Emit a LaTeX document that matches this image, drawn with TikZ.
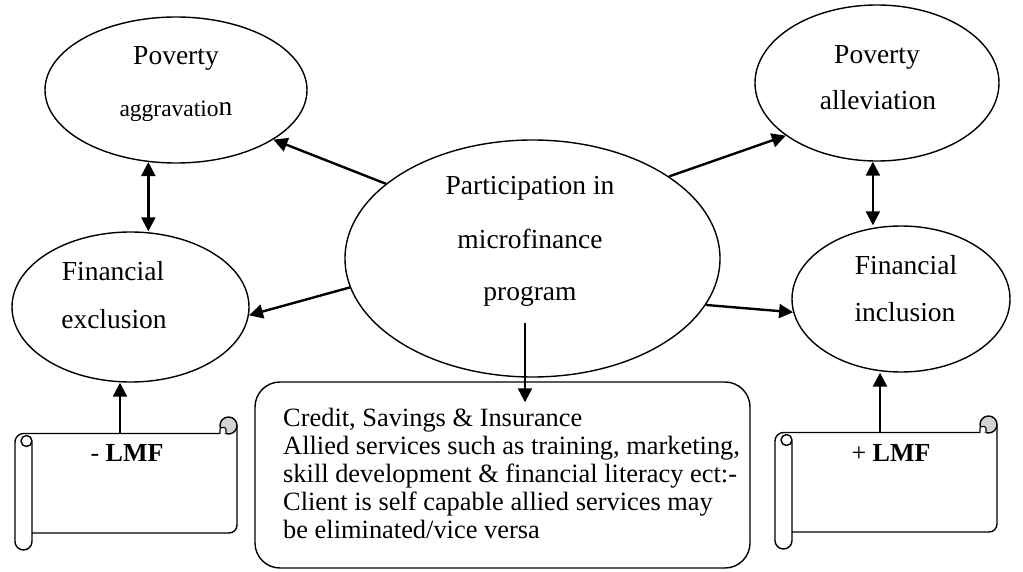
\documentclass[tikz,border=0pt]{standalone}
\usepackage{fontspec}
\setmainfont{Liberation Serif}
\usetikzlibrary{shapes.geometric,arrows.meta}

\tikzset{
  sline/.style={line width=1.4pt, line join=round},
  bubble/.style={draw, ellipse, line width=1.4pt, inner sep=0pt},
  lbl/.style={anchor=base, inner sep=0pt, font=\fontsize{27.5}{33}\selectfont},
  conn/.style={line width=2.4pt, -{Triangle[length=14pt,width=14pt]}},
  bconn/.style={line width=2.4pt, {Triangle[length=14pt,width=14pt]}-{Triangle[length=14pt,width=14pt]}},
  % horizontal scroll banner, origin at its upper left corner
  scroll/.pic={
    \draw[sline, rounded corners=8pt] (17,116) -- (222,116) -- (222,8.5);
    \draw[sline, rounded corners=8.5pt] (17,25) -- (17,133) -- (0,133) -- (0,16.5) -- (205,16.5);
    \draw[sline] (11.5,24) circle[radius=5.5];
    \draw[sline, fill=gray!35] (213.5,8.5) circle[radius=8.5];
    \draw[line width=1.1pt, fill=white, rounded corners=2pt] (205,16.5) -- (205,10.5) -- (211,10.5) -- (211,16.5);
    \coordinate (-top) at (105,16.5);
  }
}

\begin{document}
\begin{tikzpicture}[x=1pt,y=-1pt]
\useasboundingbox (0,0) rectangle (1023,572);

% ellipses
\node[bubble, minimum width=262pt, minimum height=146pt] (pa) at (176,90) {};
\node[bubble, minimum width=244pt, minimum height=156pt] (pl) at (877,83) {};
\node[bubble, minimum width=375pt, minimum height=237pt] (cen) at (532.5,258.5) {};
\node[bubble, minimum width=237pt, minimum height=150pt] (fe) at (130.5,307) {};
\node[bubble, minimum width=218pt, minimum height=146pt] (fi) at (901,299) {};

% ellipse texts
\node[lbl] (paA) at (176,65) {Poverty};
\node[lbl] (paB) at (176,116.7) {{\fontsize{23.5}{28}\selectfont aggravatio}\raisebox{1.5pt}{n}};
\node[lbl] (plA) at (877,64) {Poverty};
\node[lbl] (plB) at (878,110) {alleviation};
\node[lbl] (cenA) at (530,195) {Participation in};
\node[lbl] (cenB) at (530,248) {microfinance};
\node[lbl] (cenC) at (530,300) {program};
\node[lbl] (feA) at (113,280) {Financial};
\node[lbl] (feB) at (114,328) {exclusion};
\node[lbl] (fiA) at (906,274) {Financial};
\node[lbl] (fiB) at (905,321) {inclusion};

% services box
\node[draw, sline, rounded corners=25pt, minimum width=495pt, minimum height=186pt, inner sep=0pt] (box) at (502.5,475) {};
\node[anchor=north west, inner sep=0pt, align=left, font=\fontsize{26.4}{28.1}\selectfont] (boxtxt) at (283,407.5)
  {Credit, Savings \& Insurance\\
   Allied services such as training, marketing,\\
   skill development \& financial literacy ect:-\\
   Client is self capable allied services may\\
   be eliminated/vice versa};

% scroll banners
\pic (sl) at (15,417) {scroll};
\pic (sr) at (775,416) {scroll};
\node[inner sep=0pt, font=\fontsize{26}{30}\selectfont] (lmfL) at (127,453) {- \textbf{LMF}};
\node[inner sep=0pt, font=\fontsize{26}{30}\selectfont] (lmfR) at (891,453) {+ \textbf{LMF}};

% connectors
\draw[conn] (cen.153.4) -- (pa.333.4);
\draw[bconn] (pa.249.3) -- (pa.249.3 |- fe.north);
\draw[conn] (cen.189.5) -- (fe.356.2);
\draw[conn] (cen.31.6) -- (pl.210.9);
\draw[bconn] (pl.267.8) -- (pl.267.8 |- fi.north);
\draw[conn] (cen.345.6) -- (fi.187);
\draw[conn, shorten <=-55pt, shorten >=-21pt] ([xshift=-7.5pt]cen.south) -- ([xshift=22.5pt]box.north);
\draw[conn] (sl-top) -- (sl-top |- fe.south);
\draw[conn] (sr-top) -- (sr-top |- fi.south);
\end{tikzpicture}
\end{document}
